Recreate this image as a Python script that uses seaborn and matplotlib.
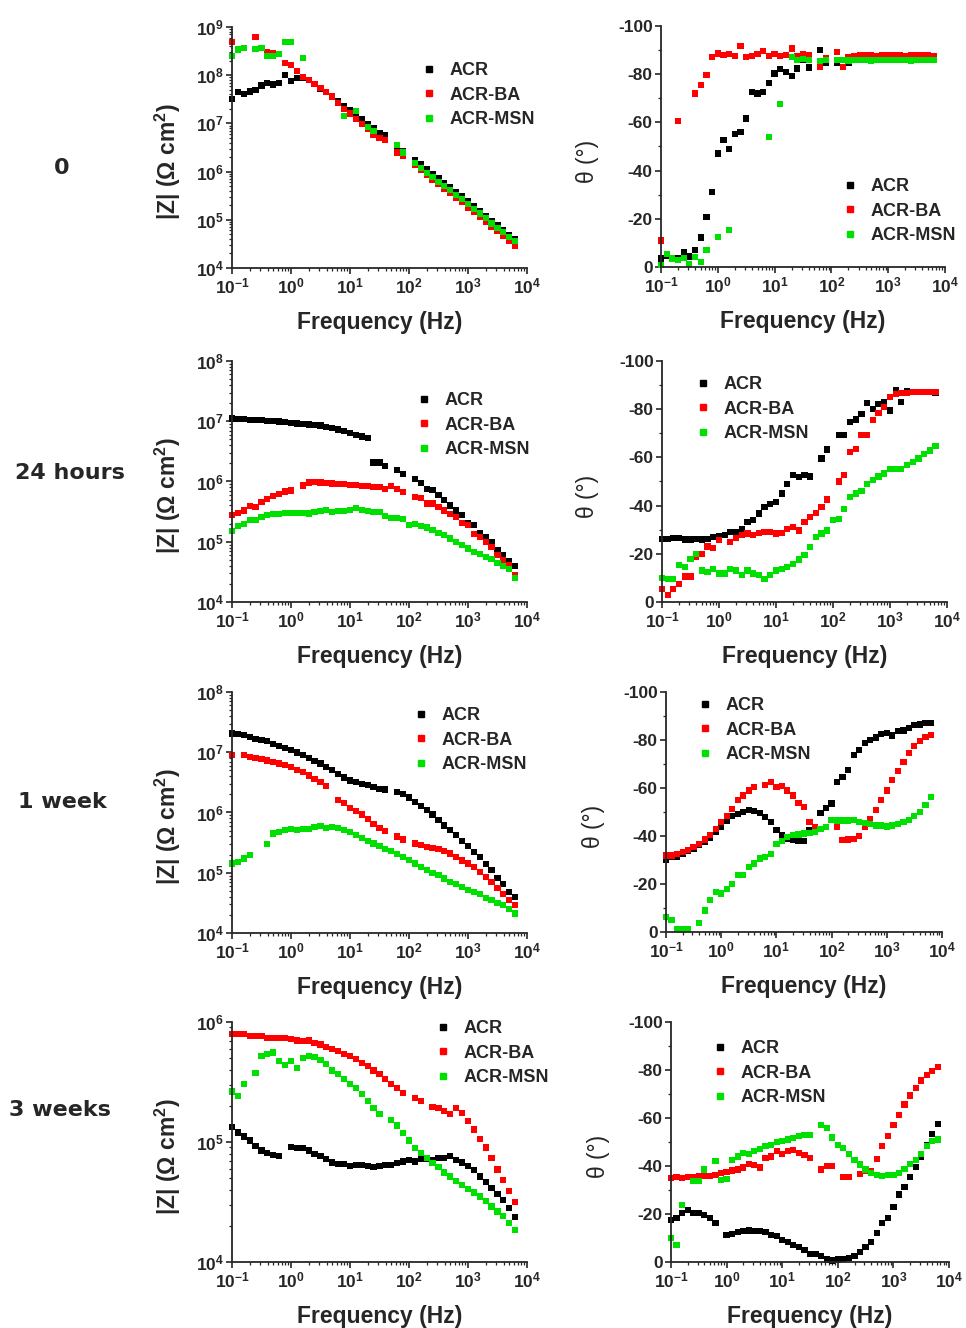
import numpy as np
import pandas as pd
import matplotlib
matplotlib.use('Agg')
import matplotlib.pyplot as plt
import seaborn as sns
from matplotlib.lines import Line2D
from matplotlib.ticker import LogLocator, MultipleLocator, NullFormatter

nan = np.nan

# Messfrequenzen (Hz), 10 Punkte pro Dekade
freq = [0.1, 0.126, 0.158, 0.2, 0.251, 0.316, 0.398, 0.501, 0.631, 0.794,
        1.0, 1.26, 1.58, 2.0, 2.51, 3.16, 3.98, 5.01, 6.31, 7.94,
        10, 12.6, 15.8, 20, 25.1, 31.6, 39.8, 50.1, 63.1, 79.4,
        100, 126, 158, 200, 251, 316, 398, 501, 631, 794,
        1000, 1260, 1580, 2000, 2510, 3160, 3980, 5010, 6310]

samples = ['ACR', 'ACR-BA', 'ACR-MSN']
colors = ['#000000', '#ff0000', '#00e000']
times = ['0', '24 hours', '1 week', '3 weeks']

# ---- |Z| (Ohm cm2) ----
z0_acr = [3.2e7, 4.4e7, 4.0e7, 4.6e7, 5.0e7, 6.1e7, 6.8e7, 6.4e7, 6.8e7, 1.0e8,
          7.7e7, 8.6e7, 9.0e7, 8.1e7, 6.6e7, 5.2e7, 4.4e7, 3.5e7, 2.9e7, 2.3e7,
          1.9e7, 1.4e7, 1.2e7, 9.8e6, 7.8e6, 6.3e6, 5.7e6, nan, 3.3e6, 2.6e6,
          nan, 1.7e6, 1.4e6, 1.13e6, 8.9e5, 7.2e5, 5.8e5, 4.7e5, 3.8e5, 3.1e5,
          2.4e5, 1.9e5, 1.5e5, 1.18e5, 9.3e4, 7.6e4, 6.1e4, 4.9e4, 3.9e4]
z0_ba = [4.9e8, nan, nan, nan, 6.2e8, nan, 3.0e8, 2.9e8, nan, 1.8e8,
         1.6e8, 1.2e8, 9.1e7, 8.0e7, 6.5e7, 5.4e7, 4.5e7, 3.6e7, 2.7e7, 2.0e7,
         1.6e7, 1.25e7, 9.8e6, 7.6e6, 5.9e6, 5.0e6, 4.6e6, nan, 2.5e6, 2.1e6,
         nan, 1.35e6, 1.1e6, 8.6e5, 6.8e5, 5.5e5, 4.4e5, 3.6e5, 2.9e5, 2.3e5,
         1.8e5, 1.45e5, 1.15e5, 9.0e4, 7.2e4, 5.8e4, 4.6e4, 3.6e4, 2.9e4]
z0_msn = [2.5e8, 3.4e8, 3.7e8, nan, 3.5e8, 3.7e8, 2.5e8, 2.5e8, 2.75e8, 4.8e8,
          4.8e8, nan, 2.3e8, nan, nan, nan, nan, nan, nan, 1.45e7,
          nan, 1.8e7, nan, 8.5e6, 7.0e6, nan, nan, nan, 3.6e6, 2.5e6,
          nan, 1.5e6, 1.2e6, 9.5e5, 7.6e5, 6.2e5, 5.0e5, 4.1e5, 3.3e5, 2.7e5,
          2.1e5, 1.7e5, 1.35e5, 1.07e5, 8.4e4, 6.8e4, 5.5e4, 4.4e4, 3.6e4]

z24_acr = [1.11e7, 1.09e7, 1.08e7, 1.06e7, 1.05e7, 1.04e7, 1.02e7, 1.0e7, 9.9e6, 9.6e6,
           9.4e6, 9.2e6, 9.0e6, 8.8e6, 8.6e6, 8.5e6, 8.1e6, 7.8e6, 7.3e6, 6.8e6,
           6.4e6, 6.0e6, 5.6e6, 5.2e6, 2.06e6, 2.06e6, 1.81e6, nan, 1.53e6, 1.35e6,
           nan, 1.09e6, 9.4e5, 7.6e5, 7.3e5, 5.9e5, 4.9e5, 4.0e5, 3.3e5, 2.75e5,
           2.05e5, 1.9e5, 1.4e5, 1.2e5, 9.9e4, 7.4e4, 6.0e4, 4.8e4, 3.9e4]
z24_ba = [2.75e5, 3.0e5, 3.3e5, 3.9e5, 3.8e5, 4.6e5, 5.2e5, 5.7e5, 6.2e5, 6.8e5,
          7.1e5, nan, 8.6e5, 9.6e5, 9.8e5, 9.6e5, 9.4e5, 9.3e5, 9.2e5, 9.0e5,
          8.8e5, 8.7e5, 8.5e5, 8.3e5, 8.1e5, 8.0e5, 7.6e5, 8.3e5, 7.6e5, 6.7e5,
          nan, 5.5e5, 5.3e5, 4.3e5, 4.3e5, 3.8e5, 3.3e5, 2.9e5, 2.6e5, 2.05e5,
          1.9e5, 1.36e5, 1.2e5, 9.9e4, 8.2e4, 6.0e4, 4.9e4, 4.1e4, 2.8e4]
z24_msn = [1.51e5, 1.8e5, 2.0e5, 2.33e5, 2.33e5, 2.58e5, 2.75e5, 2.85e5, 2.85e5, 3.0e5,
           3.0e5, 3.0e5, 3.0e5, 2.95e5, 3.1e5, 3.25e5, 3.4e5, 3.1e5, 3.25e5, 3.25e5,
           3.4e5, 3.6e5, 3.4e5, 3.25e5, 3.15e5, 3.1e5, 2.64e5, 2.5e5, 2.45e5, 2.36e5,
           1.88e5, 1.95e5, 1.85e5, 1.72e5, 1.55e5, 1.4e5, 1.28e5, 1.13e5, 1.0e5, 8.7e4,
           7.7e4, 6.8e4, 6.2e4, 5.6e4, 5.1e4, 4.5e4, 4.0e4, 3.5e4, 2.5e4]

z1w_acr = [2.04e7, 1.99e7, 1.91e7, 1.79e7, 1.68e7, 1.58e7, 1.54e7, 1.39e7, 1.26e7, 1.19e7,
           1.08e7, 9.9e6, 8.9e6, 8.1e6, 7.2e6, 6.5e6, 5.7e6, 5.0e6, 4.4e6, 3.8e6,
           3.4e6, 3.2e6, 2.94e6, 2.83e6, 2.65e6, 2.49e6, 2.4e6, nan, 2.19e6, 2.0e6,
           1.77e6, 1.49e6, 1.27e6, 1.09e6, 9.3e5, 7.6e5, 6.1e5, 5.1e5, 4.2e5, 3.4e5,
           2.75e5, 2.2e5, 1.8e5, 1.4e5, 1.1e5, 8.3e4, 6.6e4, 4.8e4, 3.9e4]
z1w_ba = [8.9e6, nan, 8.9e6, 8.3e6, 8.0e6, 7.8e6, 7.3e6, 6.9e6, 6.5e6, 6.1e6,
          5.7e6, 5.15e6, 4.7e6, 4.1e6, 3.65e6, 3.2e6, 2.72e6, nan, 1.6e6, 1.44e6,
          1.2e6, 1.06e6, 9.3e5, 7.9e5, 6.5e5, 5.6e5, 4.9e5, nan, 4.0e5, 3.55e5,
          nan, 3.05e5, 2.86e5, 2.67e5, 2.58e5, 2.45e5, 2.27e5, 2.08e5, 1.82e5, 1.6e5,
          1.42e5, 1.25e5, 1.03e5, 8.5e4, 7.0e4, 5.5e4, 4.5e4, 3.5e4, 2.9e4]
z1w_msn = [1.42e5, 1.51e5, 1.72e5, 1.95e5, nan, nan, 2.97e5, 4.47e5, 4.7e5, 5.1e5,
           5.4e5, 5.2e5, 5.25e5, 5.4e5, 5.75e5, 5.9e5, 5.6e5, 5.75e5, 5.6e5, 5.1e5,
           4.7e5, 4.2e5, 3.83e5, 3.37e5, 3.05e5, 2.75e5, 2.51e5, 2.3e5, 2.02e5, 1.82e5,
           1.65e5, 1.42e5, 1.25e5, 1.1e5, 9.9e4, 9.1e4, 8.0e4, 7.0e4, 6.5e4, 5.8e4,
           5.25e4, 4.8e4, 4.4e4, 3.86e4, 3.5e4, 3.15e4, 2.9e4, 2.54e4, 2.1e4]

z3w_acr = [1.33e5, 1.2e5, 1.11e5, 1.03e5, 9.2e4, 8.5e4, 8.1e4, 7.8e4, 7.7e4, nan,
           9.1e4, 8.9e4, 8.9e4, 8.5e4, 8.0e4, 7.7e4, 7.2e4, 6.76e4, 6.6e4, 6.6e4,
           6.35e4, 6.47e4, 6.47e4, 6.27e4, 6.2e4, 6.27e4, 6.47e4, 6.47e4, 6.68e4, 6.89e4,
           7.1e4, 6.89e4, 7.2e4, 7.2e4, 7.1e4, 7.36e4, 7.36e4, 7.6e4, 7.1e4, 6.76e4,
           6.27e4, 5.8e4, 5.16e4, 4.64e4, 4.14e4, 3.69e4, 3.3e4, 2.82e4, 2.37e4]
z3w_ba = [7.99e5, 7.99e5, 7.94e5, 7.7e5, 7.59e5, 7.59e5, 7.36e5, 7.36e5, 7.36e5, 7.36e5,
          7.2e5, 7.0e5, 6.9e5, 7.0e5, 6.7e5, 6.5e5, 6.2e5, 5.96e5, 5.69e5, 5.44e5,
          5.17e5, 4.92e5, 4.55e5, 4.27e5, 3.95e5, 3.71e5, 3.35e5, 3.06e5, 2.82e5, 2.56e5,
          nan, 2.33e5, 2.21e5, nan, 1.96e5, 1.92e5, 1.8e5, 1.72e5, 1.92e5, 1.75e5,
          1.49e5, 1.27e5, 1.06e5, 9.0e4, 7.4e4, 5.9e4, 4.8e4, 3.88e4, 3.14e4]
z3w_msn = [2.64e5, 2.43e5, 3.06e5, nan, 3.76e5, 5.24e5, 5.41e5, 5.58e5, 4.7e5, 4.41e5,
           4.7e5, 4.14e5, 5.0e5, 5.24e5, 5.11e5, 4.79e5, 4.47e5, 3.95e5, 3.71e5, 3.35e5,
           3.06e5, 2.82e5, 2.53e5, 2.18e5, 1.92e5, 1.71e5, nan, 1.53e5, 1.37e5, 1.19e5,
           1.03e5, 8.9e4, 8.1e4, 7.36e4, 6.68e4, 6.2e4, 5.58e4, 5.16e4, 4.76e4, 4.41e4,
           4.06e4, 3.8e4, 3.52e4, 3.2e4, 2.9e4, 2.64e4, 2.4e4, 2.11e4, 1.86e4]

# ---- Phasenwinkel theta (Grad) ----
p0_acr = [-3.5, -4.8, nan, -3.5, -6.2, -4.4, -7.2, -12.2, -20.8, -31.2,
          -47.1, -52.6, -48.9, -55.1, -56.0, -61.6, -72.7, -72.0, -72.7, -76.5,
          -80.3, -82.0, -81.0, -79.2, -82.4, -86.1, -82.8, nan, -90.0, -84.5,
          nan, -84.8, -85.9, -84.5, -86.4, -86.8, -87.0, -86.9, -87.1, -87.0,
          -87.0, -87.1, -86.9, -87.0, -87.1, -87.0, -86.9, -87.0, -86.8]
p0_ba = [-11.0, nan, nan, -60.5, nan, nan, -72.0, -75.5, -79.6, -87.3,
         -88.6, -88.0, -88.5, -87.5, -91.7, -87.0, -87.5, -88.5, -89.5, -87.5,
         -88.5, -87.5, -88.0, -90.7, -87.5, -88.5, -88.0, nan, -83.1, -86.5,
         nan, -89.3, -83.1, -87.0, -87.5, -87.8, -87.9, -87.8, -87.7, -87.8,
         -87.8, -87.9, -87.8, -87.7, -87.8, -87.8, -87.9, -87.8, -87.7]
p0_msn = [-0.7, -5.3, -3.5, -3.0, -3.8, -1.4, -4.2, -2.1, -6.9, nan,
          -12.5, nan, -15.2, nan, nan, nan, nan, nan, nan, -54.0,
          nan, -67.5, nan, -87.3, -86.0, -86.2, -86.0, nan, -85.6, -86.0,
          nan, -85.8, -85.9, -85.7, -85.8, -85.9, -85.8, -85.7, -85.8, -85.9,
          -85.8, -85.8, -85.9, -85.8, -85.7, -85.8, -85.9, -85.8, -85.8]

p24_acr = [-26.2, -26.0, -26.7, -26.5, -25.9, -25.9, -26.3, -25.9, -26.3, -27.0,
           -27.4, -27.7, -29.0, -29.0, -30.4, -33.2, -33.9, -36.7, -39.4, -40.8,
           -41.5, -45.0, -49.1, -52.6, -51.9, -52.8, -52.1, nan, -59.5, -63.3,
           nan, -69.2, -69.4, -74.7, -75.7, -77.9, -82.7, -80.2, -82.3, -83.0,
           -79.5, -87.8, -83.0, -87.6, -87.2, -87.2, -87.0, -87.0, -86.8]
p24_ba = [-5.5, -2.8, -5.5, -7.6, -10.6, -10.6, -18.7, -20.0, -23.0, -22.5,
          -25.6, nan, -24.9, -26.7, -27.7, -28.4, -27.7, -28.6, -29.0, -29.0,
          -28.4, -28.6, -30.4, -31.1, -29.7, -33.2, -35.3, -36.9, -39.4, -42.5,
          nan, -50.0, -52.6, -62.2, -63.6, -69.2, -69.2, -75.4, -78.4, -80.9,
          -85.0, -86.4, -86.7, -86.8, -87.0, -87.0, -87.0, -87.0, -87.0]
p24_msn = [-10.1, -9.7, -9.7, -15.2, -14.5, -18.0, -20.0, -13.1, -12.4, -13.8,
           -11.8, -11.8, -13.8, -13.1, -11.1, -13.1, -11.8, -11.1, -9.7, -11.1,
           -13.1, -13.8, -14.5, -15.9, -17.6, -19.4, -22.8, -27.0, -28.4, -29.7,
           -33.9, -34.6, -38.7, -43.6, -45.0, -46.0, -49.1, -50.5, -52.1, -53.3,
           -55.3, -55.3, -55.3, -56.7, -58.1, -59.5, -61.5, -62.9, -64.6]

p1w_acr = [-29.9, -31.3, -31.3, -32.6, -33.8, -34.7, -36.1, -37.5, -39.3, -41.7,
           -44.0, -46.5, -48.2, -49.3, -50.0, -50.7, -50.4, -49.6, -47.9, -45.8,
           -42.4, -40.3, -38.9, -38.5, -37.9, -37.9, -42.4, nan, -49.6, -51.7,
           -53.5, -62.5, -64.6, -67.6, -73.6, -75.7, -78.8, -79.9, -81.0, -82.4,
           -82.9, -81.9, -83.8, -84.0, -85.1, -86.1, -86.5, -87.1, -87.1]
p1w_ba = [-31.9, -31.9, -32.4, -33.3, -34.3, -35.4, -36.8, -38.5, -40.3, -43.0,
          -45.8, -48.2, -51.4, -55.1, -56.9, -59.0, -60.4, nan, -61.1, -62.5,
          -60.4, -60.7, -59.0, -56.9, -53.8, -52.1, -45.8, -43.7, nan, nan,
          nan, -43.7, -38.2, -38.5, -38.9, -39.9, -43.7, -47.2, -50.7, -54.9,
          -59.0, -63.2, -67.1, -70.8, -74.6, -77.4, -79.6, -81.3, -82.0]
p1w_msn = [-6.3, -4.9, -1.4, -1.0, -1.4, nan, -3.8, -9.0, -13.2, -16.7,
           -16.0, -18.0, -19.9, -23.6, -23.6, -27.1, -28.5, -30.6, -31.3, -32.6,
           -36.8, -37.9, -39.6, -40.3, -40.6, -41.0, -41.3, -41.7, -43.0, -43.7,
           -46.8, -46.5, -46.5, -46.5, -46.8, -45.8, -45.4, -44.9, -44.4, -44.4,
           -44.0, -44.4, -45.1, -45.8, -46.8, -48.2, -50.0, -52.8, -56.3]

p3w_acr = [-17.6, -18.3, -20.4, -21.8, -20.4, -20.4, -19.7, -18.3, -16.3, nan,
           -11.4, -11.7, -12.4, -12.8, -13.1, -12.8, -12.8, -12.4, -11.4, -10.7,
           -9.3, -8.3, -7.2, -6.2, -4.9, -3.3, -3.3, -2.4, -1.0, -0.6,
           -1.0, -1.4, -1.7, -2.4, -4.2, -6.1, -8.3, -12.1, -16.3, -18.3,
           -22.8, -28.1, -31.1, -35.3, -39.6, -44.0, -48.9, -53.3, -57.5]
p3w_ba = [-35.0, -35.3, -35.0, -35.3, -35.3, -35.7, -35.7, -35.7, -36.1, -37.1,
          -37.5, -38.1, -38.5, -39.4, -40.8, -40.3, -39.4, -43.3, -44.0, -46.1,
          -45.0, -46.1, -46.8, -45.4, -44.7, -43.3, nan, -38.5, -39.9, -39.9,
          nan, -35.3, -35.3, nan, -36.7, -37.8, -38.0, -43.0, -48.2, -52.4,
          -57.2, -61.4, -65.6, -69.4, -72.5, -75.6, -77.8, -79.7, -81.1]
p3w_msn = [-10.0, -7.2, -23.9, nan, -33.9, -33.6, -38.5, nan, -42.2, -34.3,
           -34.7, -42.6, -44.0, -45.4, -45.0, -46.1, -47.2, -48.2, -48.9, -50.0,
           -50.3, -51.0, -51.7, -52.4, -52.8, -53.0, nan, -57.2, -55.8, -51.9,
           -48.9, -47.5, -45.0, -42.6, -40.6, -38.5, -37.1, -36.4, -35.7, -36.1,
           -36.4, -37.1, -38.9, -40.8, -42.6, -45.0, -48.2, -50.5, -51.0]

modulus = [[z0_acr, z0_ba, z0_msn], [z24_acr, z24_ba, z24_msn],
           [z1w_acr, z1w_ba, z1w_msn], [z3w_acr, z3w_ba, z3w_msn]]
phase = [[p0_acr, p0_ba, p0_msn], [p24_acr, p24_ba, p24_msn],
         [p1w_acr, p1w_ba, p1w_msn], [p3w_acr, p3w_ba, p3w_msn]]
z_top = [1e9, 1e8, 1e8, 1e6]


def long_frame(series):
    parts = [pd.DataFrame({'freq': freq, 'value': vals, 'sample': name})
             for name, vals in zip(samples, series)]
    return pd.concat(parts, ignore_index=True).dropna()


sns.set_style('ticks')
plt.rcParams['font.family'] = ['Liberation Sans', 'DejaVu Sans']
plt.rcParams['font.weight'] = 'bold'
plt.rcParams['axes.unicode_minus'] = False
plt.rcParams['mathtext.fontset'] = 'custom'
plt.rcParams['mathtext.rm'] = 'Liberation Sans:bold'
plt.rcParams['mathtext.bf'] = 'Liberation Sans:bold'
plt.rcParams['mathtext.default'] = 'bf'

W, H = 966, 1328
fig = plt.figure(figsize=(W / 100, H / 100), dpi=100)


def px_axes(x0, y0, x1, y1):
    return fig.add_axes([x0 / W, 1 - y1 / H, (x1 - x0) / W, (y1 - y0) / H])


# Achsen in Pixeln (links, oben, rechts, unten)
z_boxes = [(232, 27, 527, 268), (232, 361, 527, 602), (232, 692, 527, 933), (232, 1022, 527, 1262)]
p_boxes = [(661, 26, 945, 267), (662, 361, 947, 602), (666, 692, 942, 932), (671, 1022, 949, 1262)]
z_leg = [(429, 70), (424, 400), (421, 715), (443, 1028)]
p_leg = [(850, 186), (703, 384), (705, 705), (720, 1048)]
row_lab = [(62, 168), (70, 473), (62, 802), (60, 1110)]

handles = [Line2D([0], [0], marker='s', ls='none', color=c, markersize=4.5) for c in colors]


def style_axis(ax):
    sns.despine(ax=ax)
    for sp in ['left', 'bottom']:
        ax.spines[sp].set_linewidth(1.3)
    ax.set_xscale('log')
    ax.set_xlim(0.1, 1e4)
    ax.xaxis.set_major_locator(LogLocator(base=10, numticks=10))
    ax.xaxis.set_minor_formatter(NullFormatter())
    ax.tick_params(which='major', length=4, width=1.2, labelsize=12.5, pad=2)
    ax.tick_params(which='minor', length=2, width=0.9)
    ax.set_xlabel('Frequency (Hz)', fontsize=16.5, fontweight='bold')
    ax.xaxis.set_label_coords(0.5, -0.18)
    ax.xaxis.label.set_va('top')


def add_legend(ax, pos):
    x, y = pos
    ax.legend(handles, samples, loc='upper left',
              bbox_to_anchor=((x - 5) / W, 1 - (y - 8) / H), bbox_transform=fig.transFigure,
              frameon=False, borderpad=0, borderaxespad=0, handlelength=0.6,
              handletextpad=0.8, labelspacing=0.42,
              prop={'weight': 'bold', 'size': 13})


for r in range(4):
    # Betrag |Z|
    axz = px_axes(*z_boxes[r])
    sns.scatterplot(data=long_frame(modulus[r]), x='freq', y='value', hue='sample',
                    hue_order=samples, palette=dict(zip(samples, colors)),
                    marker='s', s=20, linewidth=0, legend=False, ax=axz)
    axz.collections[-1].set_clip_on(False)
    style_axis(axz)
    axz.set_yscale('log')
    axz.set_ylim(1e4, z_top[r])
    axz.yaxis.set_major_locator(LogLocator(base=10, numticks=10))
    axz.yaxis.set_minor_formatter(NullFormatter())
    axz.set_ylabel('|Z| (Ω cm$^{2}$)', fontsize=16.5, fontweight='bold')
    axz.yaxis.set_label_coords(-0.165, 0.44)
    add_legend(axz, z_leg[r])

    # Phasenwinkel
    axp = px_axes(*p_boxes[r])
    sns.scatterplot(data=long_frame(phase[r]), x='freq', y='value', hue='sample',
                    hue_order=samples, palette=dict(zip(samples, colors)),
                    marker='s', s=20, linewidth=0, legend=False, ax=axp)
    axp.collections[-1].set_clip_on(False)
    style_axis(axp)
    axp.set_ylim(0, -100)
    axp.yaxis.set_major_locator(MultipleLocator(20))
    axp.yaxis.set_minor_locator(MultipleLocator(10))
    axp.set_ylabel('θ (°)', fontsize=16.5, fontweight='normal')
    axp.yaxis.set_label_coords(-0.22, 0.44)
    add_legend(axp, p_leg[r])

    fig.text(row_lab[r][0] / W, 1 - row_lab[r][1] / H, times[r], ha='center', va='center',
             fontsize=16, fontweight='bold', family='DejaVu Sans')

fig.savefig('out.png', dpi=100)
